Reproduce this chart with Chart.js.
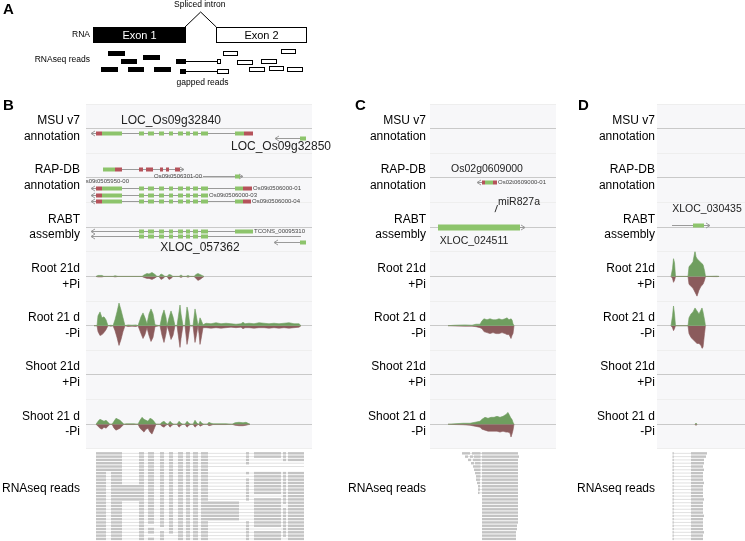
<!DOCTYPE html>
<html lang="en">
<head>
<meta charset="UTF-8">
<title>RNAseq read mapping at three loci</title>
<script src="https://cdn.jsdelivr.net/npm/chart.js"></script>
<style>
    body { margin: 0; background: #fff; font-family: 'Liberation Sans', Arial, sans-serif; }
    #page { position: relative; width: 745px; height: 541px; overflow: hidden; }
    canvas { position: absolute; }
    .letter { position: absolute; font-weight: bold; font-size: 15px; color: #000; }
</style>
</head>
<body>
<div id="page">
    <canvas id="panelA" width="330" height="95" style="left:0;top:0"></canvas>
    <canvas id="panelB" width="345" height="437" style="left:0;top:104px"></canvas>
    <canvas id="panelC" width="216" height="437" style="left:340px;top:104px"></canvas>
    <canvas id="panelD" width="180" height="437" style="left:565px;top:104px"></canvas>
    <div class="letter" style="left:3px;top:0px">A</div>
    <div class="letter" style="left:3px;top:96px">B</div>
    <div class="letter" style="left:355px;top:96px">C</div>
    <div class="letter" style="left:578px;top:96px">D</div>
</div>
<script>
// ---------- panel A: schematic (exon units along the transcript) ----------
const exonSpans = [[0, 100], [134, 232]];
const exonNames = ['Exon 1', 'Exon 2'];
const intronPath = [[100, -6.5], [117, -10.25], [134, -6.5]];
// [start, end, lane]
const exon1Reads = [[16, 34, 0], [30, 47, 2], [54, 72, 1], [9, 26, 4], [38, 54, 4], [66, 84, 4]];
const exon2Reads = [[141, 157, 0], [157, 173, 2.3], [183, 199, 2.1], [204, 220, -0.4], [170, 186, 4], [191, 207, 3.8], [211, 227, 4]];
// [black start, black end, white start, white end, lane]
const gappedReads = [[90, 100, 135, 138, 2], [95, 100, 135, 147, 4.4]];

// ---------- shared track labels ----------
const trackIds = ['msu', 'rap', 'rabt', 'rootP', 'rootM', 'shootP', 'shootM'];
const trackLabels = [['MSU v7', 'annotation'], ['RAP-DB', 'annotation'], ['RABT', 'assembly'],
    ['Root 21d', '+Pi'], ['Root 21 d', '-Pi'], ['Shoot 21d', '+Pi'], ['Shoot 21 d', '-Pi']];
const readsLabel = 'RNAseq reads';

// ---------- panel B: LOC_Os09g32840 ----------
const bSmallExons = [[53, 58], [62, 68], [73, 78], [83, 87], [92, 97], [100, 104], [107, 112], [115, 122]];
// coverage [position, forward, reverse]
const bRootPlus = [[10, 0, 0], [12, 1, 0.5], [16, 1, 0.5], [18, 0, 0], [27, 0, 0], [29, 0.8, 0.5], [32, 0, 0],
    [56, 0, 0], [58, 1.5, 1], [61, 3, 2], [63, 2.5, 2], [66, 4, 3], [69, 2, 1.5], [71, 0, 0],
    [73, 0, 0], [75, 2.5, 3], [77, 1.5, 2], [79, 0, 0], [81, 0, 0], [83, 2, 3], [85, 1.5, 2], [87, 0, 0],
    [93, 0, 0], [95, 1.5, 1], [97, 0, 0], [100, 0, 0], [102, 1, 0.8], [104, 0, 0],
    [108, 0, 0], [110, 2, 2], [112, 3, 4], [114, 2, 3], [116, 1, 1.5], [118, 0, 0]];
const bRootMinus = [[8, 0, 0], [11, 0, 0], [12, 10, 6], [14, 14, 10], [16, 8, 9], [18, 9, 7], [20, 6, 4], [22, 0, 0],
    [25, 0.5, 0.5], [27, 0, 0], [29, 6, 5], [31, 14, 12], [33, 23, 20], [35, 16, 14], [37, 8, 6], [39, 0, 0],
    [42, 0.8, 0.8], [46, 0.5, 0.5], [50, 0.8, 0.8], [52, 0, 0], [55, 9, 8], [57, 13, 13], [59, 8, 9], [61, 2, 2],
    [63, 12, 10], [65, 17, 16], [67, 12, 12], [69, 1, 1], [71, 0.5, 0.5], [74, 0, 0], [76, 10, 10], [78, 16, 17],
    [80, 8, 8], [81, 0, 0], [83, 8, 6], [85, 15, 14], [87, 9, 10], [89, 0, 0], [91, 0, 0], [93, 14, 15],
    [94, 21, 22], [95, 12, 13], [97, 0, 0], [99, 0, 0], [101, 19, 19], [102, 15, 14], [104, 0, 0],
    [106, 0.5, 0.5], [107, 0, 0], [109, 17, 17], [110, 12, 12], [112, 0, 0], [113, 3, 8], [114, 8, 19],
    [115, 6, 14], [117, 1, 2], [120, 2.5, 2], [125, 2, 2.5], [130, 3, 2], [135, 2, 2.5], [140, 2.5, 2],
    [145, 2, 1.5], [150, 1.5, 2], [155, 2, 1.5], [157, 3.5, 3], [159, 2, 2], [163, 2.5, 2], [168, 2, 2.5],
    [173, 3, 2], [178, 2.5, 2], [183, 2, 2.5], [188, 2.5, 2], [193, 2, 2.5], [198, 2.5, 2], [203, 3, 2.5],
    [208, 2, 2], [213, 2, 1.5], [215, 0, 0]];
const bShootMinus = [[10, 0, 0], [12, 3, 2], [14, 5, 4], [16, 4, 5], [18, 3, 3], [20, 4, 4], [22, 2, 2], [24, 0, 0],
    [26, 0, 0], [28, 3, 4], [30, 6, 6], [32, 5, 5], [34, 4, 4], [36, 2, 2], [38, 0, 0],
    [40, 0.5, 0.3], [48, 0.5, 0.3], [52, 0, 0], [54, 4, 4], [56, 7, 6], [58, 5, 8], [60, 4, 5], [62, 3, 4],
    [64, 6, 8], [66, 5, 10], [68, 3, 5], [70, 0, 0], [74, 0, 0], [76, 2, 2], [78, 3, 3], [80, 1, 1], [82, 0, 0],
    [84, 3, 3], [86, 1, 1], [88, 0, 0], [91, 0, 0], [93, 3, 3], [95, 1, 1], [97, 0, 0], [99, 0, 0], [101, 3, 3],
    [103, 1, 1], [105, 0, 0], [107, 0, 0], [109, 4, 3], [111, 1, 1], [113, 0, 0], [114, 3, 2], [116, 1, 1],
    [118, 0, 0], [121, 0, 0], [123, 2, 1.5], [125, 1, 1], [127, 0.5, 0.3], [140, 0.5, 0.3], [146, 0, 0],
    [149, 1.5, 1], [153, 2, 1.5], [157, 1.5, 1.5], [160, 2, 1], [164, 0, 0]];
// read pile-up: column spans and one string per row ('#' read, '-' split-read line, '.' none)
const bReadCols = [[10, 20], [20, 25], [25, 36], [36, 53], [53, 58], [62, 68], [74, 78], [83, 87], [92, 97],
    [100, 104], [107, 112], [115, 122], [122, 153], [160, 163], [168, 195], [197, 200], [202, 218]];
const bReadRows = [
    '###.########-####', '###.########-####', '###.########-#.##', '###.########-#---', '###.########-----',
    '###.########.....', '#.#.########-####', '#.#.########-.###', '#.#.########-####', '#.#.########-####',
    '#.##########-####', '#.##########-####', '#.##########-####', '#.##########-#.##', '#.##########-####',
    '#.#.#########.###', '#.#.#########.#.#', '#.#.#########-###', '#.#.#########.###', '#.#.#########.###',
    '#.#.#########-###', '#.#.########-####', '#.#.#.######-####', '#.#.##.#####-#.##', '#.#.########-####',
    '#.#.#.#.####-####', '#.#.###.####-##.#'];

// ---------- panel C: Os02g0609000 / miR827a ----------
const cRootMinus = [[18, 0, 0], [25, 0.5, 0.3], [35, 0.8, 0.5], [42, 0.5, 0.5], [46, 1.5, 1], [50, 1.5, 2],
    [52, 5, 3], [54, 7, 6], [57, 6, 7], [60, 7, 8], [63, 6, 7], [66, 6, 8], [69, 7, 8], [72, 6, 7], [75, 7, 8],
    [77, 8, 9], [79, 6, 9], [81, 7, 13], [82, 6, 10], [83, 2, 8], [84, 0, 0]];
const cShootMinus = [[18, 0, 0], [25, 0.5, 0.3], [33, 1, 0.5], [40, 1, 1], [45, 2, 2], [50, 3, 3], [52, 5, 5],
    [55, 7, 6], [58, 6, 7], [61, 7, 7], [64, 7, 7], [67, 8, 7], [70, 7, 8], [73, 8, 7], [76, 10, 8], [78, 12, 8],
    [80, 8, 9], [81, 6, 13], [82, 5, 10], [83, 2, 6], [84, 0, 0]];
const cMainStart = 52;
const cMainEnd = [88, 89, 88, 88, 88, 88, 88, 88, 88, 88, 88, 88, 88, 88, 88, 88, 88, 88, 88, 88, 88, 88, 87, 87, 86, 86, 86];
// [row, start, end]
const cShortReads = [[0, 32, 40], [0, 42, 50.5], [1, 35, 38], [1, 40, 43], [1, 44, 50.5], [2, 38, 41], [2, 43, 50.5],
    [3, 41, 44], [3, 45, 50.5], [4, 43, 50.5], [5, 44, 50.5], [6, 45, 50.5], [7, 46, 50.5], [8, 46, 50],
    [9, 47, 50], [10, 48, 50], [11, 48, 50], [12, 48, 49.5]];

// ---------- panel D: XLOC_030435 ----------
const dRootPlus = [[14, 0, 0], [15.5, 8, 2], [16.5, 18, 6], [17.5, 14, 4], [18.5, 0, 0],
    [31, 0, 0], [32, 10, 8], [34, 12, 10], [36, 15, 12], [38, 26, 16], [39, 20, 18], [40, 18, 20], [42, 16, 14],
    [44, 14, 10], [46, 12, 8], [47.5, 6, 4], [48.5, 0, 0], [60, 0.3, 0.2], [62, 0, 0]];
const dRootMinus = [[14, 0, 0], [15.5, 10, 2], [16.5, 20, 5], [17.5, 12, 3], [18.5, 0, 0],
    [31, 0, 0], [32, 8, 8], [34, 12, 12], [36, 14, 14], [38, 18, 16], [40, 15, 18], [42, 12, 18], [44, 16, 20],
    [45, 18, 23], [46, 14, 22], [47.5, 6, 8], [48.5, 0, 0]];
const dShootMinus = [[38, 0, 0], [39, 1.2, 1.2], [40, 0, 0]];
const dShortRead = [15.5, 16.8];
const dMainStart = 34;
const dMainEnd = [50, 49, 47, 47, 46, 47, 46, 46, 46, 47, 46, 46, 46, 46, 47, 46, 46, 46, 46, 47, 46, 46, 46, 46, 47, 46, 46];

// ---------- colours ----------
const GREEN = '#6f9e5f', RED = '#8b5b5c', CDS = '#8dc46c', UTR = '#b5535b';
const FONT = "'Liberation Sans', Arial, sans-serif";
Chart.defaults.font.family = FONT;
Chart.defaults.animation = false;

// ---------- helpers ----------
function coverage(track, triples) {
    const base = { type: 'line', yAxisID: track, fill: 'origin', pointRadius: 0, borderWidth: 0.6, tension: 0 };
    return [
        { ...base, data: triples.map(p => ({ x: p[0], y: p[1] })), backgroundColor: GREEN, borderColor: GREEN },
        { ...base, data: triples.map(p => ({ x: p[0], y: -p[2] })), backgroundColor: RED, borderColor: RED }
    ];
}

function readsFromRows(cols, rows) {
    const blocks = [], links = [];
    rows.forEach((s, r) => {
        let first = -1, last = -1;
        [...s].forEach((ch, c) => {
            if (ch !== '.') { if (first < 0) first = c; last = c; }
            if (ch === '#') blocks.push([r, cols[c][0], cols[c][1]]);
        });
        if (first >= 0) links.push([r, cols[first][0], cols[last][1]]);
    });
    return { blocks, links };
}

// fixed label column and no extra padding from the first/last tick labels
function fixAxis(labelWidth) {
    return s => { s.width = labelWidth; s.paddingTop = 0; s.paddingBottom = 0; };
}

function panelScales(span, labelWidth, pad) {
    const scales = { x: { type: 'linear', min: 0, max: span, display: false } };
    trackIds.forEach((id, i) => {
        const gene = i < 3;
        scales[id] = {
            type: 'linear', position: 'left', stack: 'tracks', stackWeight: 1, weight: 20 - i,
            min: gene ? -3.78 : -25, max: gene ? 3.78 : 25, reverse: gene,
            afterBuildTicks: s => { s.ticks = [{ value: s.min }, { value: 0 }, { value: s.max }]; },
            afterFit: fixAxis(labelWidth),
            border: { display: false },
            grid: { drawTicks: false, color: c => c.tick && c.tick.value === 0 ? '#c9c9c9' : '#eeeeee' },
            ticks: { padding: pad, autoSkip: false, color: '#000', font: { size: 12, lineHeight: 1.3 },
                callback: v => v === 0 ? trackLabels[i] : '' }
        };
    });
    scales.reads = {
        type: 'linear', position: 'left', stack: 'tracks', stackWeight: 1.87, weight: 5,
        min: -1, max: 27, reverse: true,
        afterBuildTicks: s => { s.ticks = [{ value: 11 }]; },
        afterFit: fixAxis(labelWidth),
        border: { display: false }, grid: { display: false, drawTicks: false },
        ticks: { padding: pad, autoSkip: false, color: '#000', font: { size: 12 }, callback: () => readsLabel }
    };
    return scales;
}

// light panel behind the coverage/annotation tracks
const trackBackground = {
    id: 'trackBackground',
    beforeDraw(chart) {
        const { ctx, chartArea, scales } = chart;
        ctx.save();
        ctx.fillStyle = '#f7f7f9';
        ctx.fillRect(chartArea.left, scales.msu.top, chartArea.right - chartArea.left, scales.shootM.bottom - scales.msu.top);
        ctx.restore();
    }
};

// gene models and names
const geneGlyphs = {
    id: 'geneGlyphs',
    afterDatasetsDraw(chart, args, opts) {
        const { ctx, chartArea } = chart, x = chart.scales.x;
        ctx.save();
        (opts.transcripts || []).forEach(t => {
            const ys = chart.scales[t.track];
            const y = Math.round(ys.getPixelForValue(t.lane)) + 0.5;
            const x0 = x.getPixelForValue(t.from), x1 = x.getPixelForValue(t.to);
            ctx.strokeStyle = '#9a9a9a';
            ctx.lineWidth = 1;
            ctx.beginPath(); ctx.moveTo(x0, y); ctx.lineTo(x1, y); ctx.stroke();
            const ax = t.strand < 0 ? x0 : x1, d = t.strand < 0 ? 4 : -4;
            ctx.beginPath(); ctx.moveTo(ax + d, y - 2.5); ctx.lineTo(ax, y); ctx.lineTo(ax + d, y + 2.5); ctx.stroke();
            const h = t.thick ? 6 : 4;
            ctx.fillStyle = CDS;
            (t.cds || []).forEach(([a, b]) => ctx.fillRect(x.getPixelForValue(a), y - h / 2, x.getPixelForValue(b) - x.getPixelForValue(a), h));
            ctx.fillStyle = UTR;
            (t.utr || []).forEach(([a, b]) => ctx.fillRect(x.getPixelForValue(a), y - h / 2, x.getPixelForValue(b) - x.getPixelForValue(a), h));
            if (t.tag) {
                ctx.font = '6px ' + FONT;
                ctx.fillStyle = '#444';
                ctx.textBaseline = 'middle';
                ctx.textAlign = t.tagSide === 'left' ? 'right' : 'left';
                ctx.fillText(t.tag, t.tagSide === 'left' ? x0 - 1 : x1 + 1, y);
            }
        });
        ctx.fillStyle = '#222';
        ctx.textBaseline = 'middle';
        ctx.font = opts.labelSize + 'px ' + FONT;
        (opts.labels || []).forEach(([track, lane, pos, text, align]) => {
            ctx.textAlign = align || 'center';
            ctx.fillText(text, x.getPixelForValue(pos), chart.scales[track].getPixelForValue(lane));
        });
        (opts.pointers || []).forEach(([track, a, la, b, lb]) => {
            const s = chart.scales[track];
            ctx.strokeStyle = '#333';
            ctx.beginPath();
            ctx.moveTo(x.getPixelForValue(a), s.getPixelForValue(la));
            ctx.lineTo(x.getPixelForValue(b), s.getPixelForValue(lb));
            ctx.stroke();
        });
        ctx.beginPath();
        ctx.rect(chartArea.left, chartArea.top, chartArea.right - chartArea.left, chartArea.bottom - chartArea.top);
        ctx.clip();
        ctx.font = '6px ' + FONT;
        ctx.fillStyle = '#444';
        (opts.tags || []).forEach(([track, lane, pos, text]) => {
            ctx.textAlign = 'right';
            ctx.fillText(text, x.getPixelForValue(pos), chart.scales[track].getPixelForValue(lane));
        });
        ctx.restore();
    }
};

// read pile-up under the tracks
const readPileup = {
    id: 'readPileup',
    afterDatasetsDraw(chart, args, opts) {
        const { ctx } = chart, x = chart.scales.x, y = chart.scales.reads;
        const h = y.getPixelForValue(0.72) - y.getPixelForValue(0);
        ctx.save();
        ctx.strokeStyle = '#d4d4d4';
        ctx.lineWidth = 0.7;
        (opts.links || []).forEach(([r, a, b]) => {
            const yy = y.getPixelForValue(r) + h / 2;
            ctx.beginPath(); ctx.moveTo(x.getPixelForValue(a), yy); ctx.lineTo(x.getPixelForValue(b), yy); ctx.stroke();
        });
        ctx.fillStyle = '#c3c3c3';
        (opts.blocks || []).forEach(([r, a, b]) => {
            ctx.fillRect(x.getPixelForValue(a), y.getPixelForValue(r), x.getPixelForValue(b) - x.getPixelForValue(a), h);
        });
        ctx.restore();
    }
};

function buildPanel(canvasId, span, labelWidth, pad, rightPad, datasets, genes, reads) {
    new Chart(document.getElementById(canvasId), {
        type: 'line',
        data: { datasets },
        options: {
            responsive: false,
            layout: { padding: { left: 0, top: 0, bottom: 0, right: rightPad } },
            scales: panelScales(span, labelWidth, pad),
            plugins: { legend: { display: false }, tooltip: { enabled: false }, geneGlyphs: genes, readPileup: reads }
        },
        plugins: [trackBackground, geneGlyphs, readPileup]
    });
}

// ---------- panel B ----------
buildPanel('panelB', 226, 86, 6, 33,
    [...coverage('rootP', bRootPlus), ...coverage('rootM', bRootMinus), ...coverage('shootM', bShootMinus)],
    {
        labelSize: 12,
        transcripts: [
            { track: 'msu', lane: 0.6, from: 5, to: 167, strand: -1, cds: [[16, 36], ...bSmallExons, [149, 158]], utr: [[10, 16], [158, 167]] },
            { track: 'msu', lane: 1.5, from: 189, to: 220, strand: -1, cds: [[214, 220]] },
            { track: 'rap', lane: -1.4, from: 17, to: 98, strand: 1, cds: [[17, 29]], utr: [[29, 36], [53, 57], [60, 67], [74, 77], [80, 83], [89, 94]] },
            { track: 'rap', lane: -0.3, from: 117, to: 157, strand: 1, cds: [[149, 154]], tag: 'Os09t0506301-00', tagSide: 'left' },
            { track: 'rap', lane: 1.5, from: 5, to: 166, strand: -1, cds: [[16, 36], ...bSmallExons, [149, 157]], utr: [[10, 16], [157, 166]], tag: 'Os09t0506000-01' },
            { track: 'rap', lane: 2.6, from: 5, to: 122, strand: -1, cds: [[16, 36], ...bSmallExons], utr: [[10, 16]], tag: 'Os09t0506000-03' },
            { track: 'rap', lane: 3.5, from: 5, to: 165, strand: -1, cds: [[16, 36], ...bSmallExons, [149, 157]], utr: [[10, 16], [157, 165]], tag: 'Os09t0506000-04' },
            { track: 'rabt', lane: 0.6, from: 5, to: 167, strand: -1, cds: [...bSmallExons, [149, 167]], tag: 'TCONS_00095310' },
            { track: 'rabt', lane: 1.4, from: 5, to: 215, strand: -1, cds: [...bSmallExons] },
            { track: 'rabt', lane: 2.3, from: 188, to: 220, strand: -1, cds: [[214, 220]] }
        ],
        labels: [['msu', -1.2, 85, 'LOC_Os09g32840'], ['msu', 2.8, 195, 'LOC_Os09g32850'], ['rabt', 3.1, 114, 'XLOC_057362']],
        tags: [['rap', 0.6, 43, 'Os09t0505950-00']]
    },
    readsFromRows(bReadCols, bReadRows));

// ---------- panel C ----------
const cBlocks = cMainEnd.map((e, r) => [r, cMainStart, e]).concat(cShortReads);
const cLinks = cShortReads.map(([r, a]) => [r, a, cMainStart]);
buildPanel('panelC', 126, 90, 4, 0,
    [...coverage('rootM', cRootMinus), ...coverage('shootM', cShootMinus)],
    {
        labelSize: 10.5,
        transcripts: [
            { track: 'rap', lane: 0.6, from: 47, to: 67, strand: -1, cds: [[55, 63]], utr: [[52, 55], [63, 67]], tag: 'Os02t0609000-01' },
            { track: 'rabt', lane: -0.1, from: 8, to: 95, strand: 1, cds: [[8, 90]], thick: true }
        ],
        labels: [['rap', -1.4, 57, 'Os02g0609000'], ['rabt', 2.1, 44, 'XLOC_024511'], ['rabt', -3.9, 68, 'miR827a', 'left']],
        pointers: [['rabt', 65, -2.3, 67.5, -3.4]]
    },
    { blocks: cBlocks, links: cLinks });

// ---------- panel D ----------
const dBlocks = dMainEnd.map((e, r) => [r, dMainStart, e]).concat(dMainEnd.map((e, r) => [r, dShortRead[0], dShortRead[1]]));
const dLinks = dMainEnd.map((e, r) => [r, dShortRead[1], dMainStart]);
buildPanel('panelD', 88, 92, 2, 0,
    [...coverage('rootP', dRootPlus), ...coverage('rootM', dRootMinus), ...coverage('shootM', dShootMinus)],
    {
        labelSize: 10.5,
        transcripts: [{ track: 'rabt', lane: -0.3, from: 15, to: 53, strand: 1, cds: [[36, 47]] }],
        labels: [['rabt', -2.8, 50, 'XLOC_030435']]
    },
    { blocks: dBlocks, links: dLinks });

// ---------- panel A ----------
const schematic = {
    id: 'schematic',
    afterDatasetsDraw(chart) {
        const { ctx } = chart, x = chart.scales.x, y = chart.scales.y;
        const px = v => x.getPixelForValue(v), py = v => y.getPixelForValue(v);
        ctx.save();
        exonSpans.forEach(([a, b], i) => {
            const x0 = Math.round(px(a)) + 0.5, x1 = Math.round(px(b)) + 0.5, y0 = Math.round(py(-6.5)) + 0.5, y1 = Math.round(py(-2.75)) + 0.5;
            ctx.fillStyle = i === 0 ? '#000' : '#fff';
            ctx.fillRect(x0, y0, x1 - x0, y1 - y0);
            ctx.strokeStyle = '#000'; ctx.lineWidth = 1;
            ctx.strokeRect(x0, y0, x1 - x0, y1 - y0);
            ctx.fillStyle = i === 0 ? '#fff' : '#000';
            ctx.font = '11px ' + FONT; ctx.textAlign = 'center'; ctx.textBaseline = 'middle';
            ctx.fillText(exonNames[i], (x0 + x1) / 2, (y0 + y1) / 2 + 0.5);
        });
        const box = (a, b, lane, filled) => {
            const x0 = Math.round(px(a)) + 0.5, x1 = Math.round(px(b)) + 0.5;
            const y0 = Math.round(py(lane - 0.5)) + 0.5, y1 = Math.round(py(lane + 0.5)) + 0.5;
            ctx.fillStyle = filled ? '#000' : '#fff';
            ctx.fillRect(x0, y0, x1 - x0, y1 - y0);
            ctx.strokeStyle = '#000'; ctx.lineWidth = 1;
            ctx.strokeRect(x0, y0, x1 - x0, y1 - y0);
        };
        exon1Reads.forEach(([a, b, l]) => box(a, b, l, true));
        exon2Reads.forEach(([a, b, l]) => box(a, b, l, false));
        gappedReads.forEach(([a, b, c, d, l]) => {
            const yy = Math.round(py(l)) + 0.5;
            ctx.strokeStyle = '#000'; ctx.lineWidth = 1;
            ctx.beginPath(); ctx.moveTo(px(b), yy); ctx.lineTo(px(c), yy); ctx.stroke();
            box(a, b, l, true);
            box(c, d, l, false);
        });
        ctx.fillStyle = '#000';
        ctx.font = '8.5px ' + FONT; ctx.textBaseline = 'middle';
        ctx.textAlign = 'right';
        ctx.fillText('RNA', px(-3.3), py(-4.6));
        ctx.fillText('RNAseq reads', px(-3.3), py(1.75));
        ctx.textAlign = 'center';
        ctx.fillText('Spliced intron', px(116), py(-12));
        ctx.fillText('gapped reads', px(119), py(7.5));
        ctx.restore();
    }
};

new Chart(document.getElementById('panelA'), {
    type: 'line',
    data: {
        datasets: [{
            data: intronPath.map(p => ({ x: p[0], y: p[1] })),
            borderColor: '#000', borderWidth: 1, pointRadius: 0, tension: 0, fill: false
        }]
    },
    options: {
        responsive: false,
        layout: { padding: 0 },
        scales: {
            x: { type: 'linear', min: -101.1, max: 257.6, display: false },
            y: { type: 'linear', min: -13.25, max: 10.5, reverse: true, display: false }
        },
        plugins: { legend: { display: false }, tooltip: { enabled: false } }
    },
    plugins: [schematic]
});
</script>
</body>
</html>
